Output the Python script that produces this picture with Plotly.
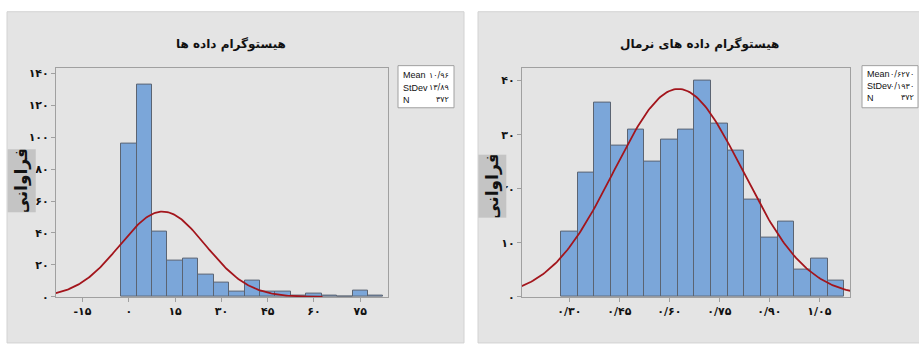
import numpy as np
import plotly.graph_objects as go

W, H = 919, 347

# ---------------- data ----------------
left_title = "هیستوگرام داده ها"
right_title = "هیستوگرام داده های نرمال"
y_title = "فراوانی"

left_bin_centers = [0, 5, 10, 15, 20, 25, 30, 35, 40, 45, 50, 55, 60, 65, 70, 75, 80]
left_counts = [96, 133, 41, 23, 24, 14, 9, 3, 10, 3, 3, 1, 2, 1, 0, 4, 1]
left_bin_width = 5
left_mean, left_sd, left_n = 10.96, 13.89, 372
left_xtick_vals = [-15, 0, 15, 30, 45, 60, 75]
left_xtick_text = ["-۱۵", "۰", "۱۵", "۳۰", "۴۵", "۶۰", "۷۵"]
left_ytick_vals = [0, 20, 40, 60, 80, 100, 120, 140]
left_ytick_text = ["۰", "۲۰", "۴۰", "۶۰", "۸۰", "۱۰۰", "۱۲۰", "۱۴۰"]
left_stats_labels = ["Mean", "StDev", "N"]
left_stats_values = ["۱۰/۹۶", "۱۳/۸۹", "۳۷۲"]

right_bin_centers = [0.30, 0.35, 0.40, 0.45, 0.50, 0.55, 0.60, 0.65, 0.70, 0.75,
                     0.80, 0.85, 0.90, 0.95, 1.00, 1.05, 1.10]
right_counts = [12, 23, 36, 28, 31, 25, 29, 31, 40, 32, 27, 18, 11, 14, 5, 7, 3]
right_bin_width = 0.05
right_mean, right_sd, right_n = 0.6270, 0.1930, 372
right_xtick_vals = [0.30, 0.45, 0.60, 0.75, 0.90, 1.05]
right_xtick_text = ["۰/۳۰", "۰/۴۵", "۰/۶۰", "۰/۷۵", "۰/۹۰", "۱/۰۵"]
right_ytick_vals = [0, 10, 20, 30, 40]
right_ytick_text = ["۰", "۱۰", "۲۰", "۳۰", "۴۰"]
right_stats_labels = ["Mean", "StDev", "N"]
right_stats_values = ["۰/۶۲۷۰", "۰/۱۹۳۰", "۳۷۲"]

# ---------------- style ----------------
PANEL_BG = "#e4e4e4"
PANEL_LINE = "#d2d2d2"
BAR_FILL = "#7ba6d9"
BAR_LINE = "#5b6472"
CURVE = "#a3151c"
FONT = "Tahoma, DejaVu Sans, sans-serif"
LABEL_FONT = "Liberation Sans Narrow, Liberation Sans, Arial, sans-serif"


def px(x):
    return x / W


def py(y):
    return 1 - y / H


def normal_curve(mean, sd, n, bw, lo, hi):
    xs = np.linspace(lo, hi, 300)
    ys = n * bw / (sd * np.sqrt(2 * np.pi)) * np.exp(-0.5 * ((xs - mean) / sd) ** 2)
    return xs, ys


fig = go.Figure()

# left histogram
fig.add_trace(go.Bar(x=left_bin_centers, y=left_counts, width=left_bin_width,
                     marker=dict(color=BAR_FILL, line=dict(color=BAR_LINE, width=1)),
                     xaxis="x", yaxis="y", showlegend=False, hoverinfo="x+y"))
lx, ly = normal_curve(left_mean, left_sd, left_n, left_bin_width,
                      left_mean - 3.9 * left_sd, left_mean + 3.73 * left_sd)
fig.add_trace(go.Scatter(x=lx, y=ly, mode="lines", line=dict(color=CURVE, width=1.8),
                         xaxis="x", yaxis="y", showlegend=False, cliponaxis=True))

# right histogram
fig.add_trace(go.Bar(x=right_bin_centers, y=right_counts, width=right_bin_width,
                     marker=dict(color=BAR_FILL, line=dict(color=BAR_LINE, width=1)),
                     xaxis="x2", yaxis="y2", showlegend=False, hoverinfo="x+y"))
rx, ry = normal_curve(right_mean, right_sd, right_n, right_bin_width,
                      right_mean - 4 * right_sd, right_mean + 4 * right_sd)
fig.add_trace(go.Scatter(x=rx, y=ry, mode="lines", line=dict(color=CURVE, width=1.8),
                         xaxis="x2", yaxis="y2", showlegend=False, cliponaxis=True))

axis_common = dict(showgrid=False, zeroline=False, showline=True, linecolor="#a0a0a0",
                   linewidth=1, mirror=True, ticks="outside", ticklen=4, tickcolor="#a0a0a0",
                   tickfont=dict(family=FONT, size=11, color="#111111", weight="bold"),
                   fixedrange=True)

fig.update_layout(
    width=W, height=H, margin=dict(l=0, r=0, t=0, b=0),
    paper_bgcolor="white", plot_bgcolor="white", bargap=0,
    font=dict(family=FONT),
    xaxis=dict(domain=[px(56), px(388)], range=[-23.6, 84], anchor="y",
               tickmode="array", tickvals=left_xtick_vals, ticktext=left_xtick_text,
               **axis_common),
    yaxis=dict(domain=[py(303), py(69)], range=[0, 143.5], anchor="x",
               tickmode="array", tickvals=left_ytick_vals, ticktext=left_ytick_text,
               **axis_common),
    xaxis2=dict(domain=[px(522), px(850)], range=[0.158, 1.142], anchor="y2",
                tickmode="array", tickvals=right_xtick_vals, ticktext=right_xtick_text,
                **axis_common),
    yaxis2=dict(domain=[py(303), py(69)], range=[0, 42.4], anchor="x2",
                tickmode="array", tickvals=right_ytick_vals, ticktext=right_ytick_text,
                **axis_common),
)

shapes = [
    dict(type="rect", xref="paper", yref="paper", x0=px(7), x1=px(464), y0=py(350), y1=py(12),
         fillcolor=PANEL_BG, line=dict(color=PANEL_LINE, width=1), layer="below"),
    dict(type="rect", xref="paper", yref="paper", x0=px(478), x1=px(925), y0=py(350), y1=py(12),
         fillcolor=PANEL_BG, line=dict(color=PANEL_LINE, width=1), layer="below"),
    # stat boxes
    dict(type="rect", xref="paper", yref="paper", x0=px(398), x1=px(454), y0=py(110), y1=py(67),
         fillcolor="white", line=dict(color="#a0a0a0", width=1)),
    dict(type="rect", xref="paper", yref="paper", x0=px(862), x1=px(918), y0=py(110), y1=py(67),
         fillcolor="white", line=dict(color="#a0a0a0", width=1)),
]
fig.update_layout(shapes=shapes)

ann = []
ann.append(dict(text="<b>" + left_title + "</b>", x=px(231), y=py(45), xref="paper",
                yref="paper", xanchor="center", yanchor="middle", showarrow=False,
                font=dict(family=FONT, size=12, color="#111111")))
ann.append(dict(text="<b>" + right_title + "</b>", x=px(699), y=py(45), xref="paper",
                yref="paper", xanchor="center", yanchor="middle", showarrow=False,
                font=dict(family=FONT, size=12, color="#111111")))

# y-axis titles with grey boxes
for cx, cy in [(21.5, 185), (492.5, 189.5)]:
    ann.append(dict(text="<b>" + y_title + "</b>", x=px(cx), y=py(cy), xref="paper",
                    yref="paper", xanchor="center", yanchor="middle", showarrow=False,
                    textangle=-90, bgcolor="#c4c4c4", borderpad=0, width=62, height=27,
                    font=dict(family=FONT, size=17, color="#111111")))

# stats text
for bx0, bx1, labels, values, ys in [
    (401, 451, left_stats_labels, left_stats_values, [77, 89.5, 102]),
    (865, 916, right_stats_labels, right_stats_values, [76, 88, 100]),
]:
    for lab, val, yy in zip(labels, values, ys):
        ann.append(dict(text=lab, x=px(bx0), y=py(yy), xref="paper", yref="paper",
                        xanchor="left", yanchor="middle", showarrow=False,
                        font=dict(family=LABEL_FONT, size=9, color="#111111")))
        ann.append(dict(text=val, x=px(bx1), y=py(yy), xref="paper", yref="paper",
                        xanchor="right", yanchor="middle", showarrow=False,
                        font=dict(family=FONT, size=8, color="#111111")))

fig.update_layout(annotations=ann)

fig.write_html("out.html", config={"displayModeBar": False},
               post_script="document.body.style.margin='0px';")
